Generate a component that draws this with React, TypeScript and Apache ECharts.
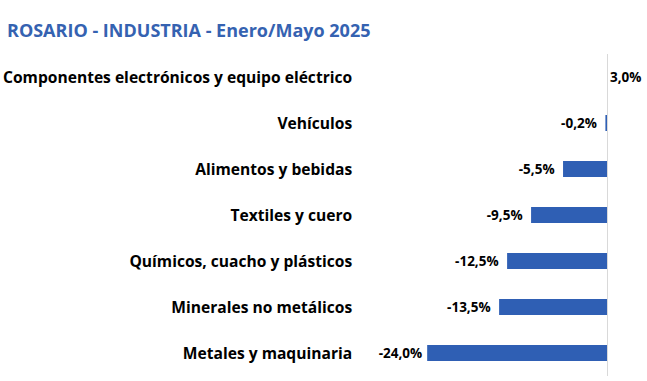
import React, { useEffect, useRef } from "react";
import * as echarts from "echarts";

const titleText = "ROSARIO - INDUSTRIA - Enero/Mayo 2025";
const categories = [
  "Componentes electrónicos y equipo eléctrico",
  "Vehículos",
  "Alimentos y bebidas",
  "Textiles y cuero",
  "Químicos, cuacho y plásticos",
  "Minerales no metálicos",
  "Metales y maquinaria",
];
const values = [3.0, -0.2, -5.5, -9.5, -12.5, -13.5, -24.0];
const axisMin = -22.5;
const axisMax = 0;

const BLUE = "#2F5FB4";
const FONT = "Open Sans";

export default function App() {
  const ref = useRef<HTMLDivElement>(null);
  useEffect(() => {
    if (!ref.current) return;
    const chart = echarts.init(ref.current, undefined, { renderer: "svg" });
    const fmt = (v: number) => v.toFixed(1).replace(".", ",") + "%";
    chart.setOption({
      animation: false,
      backgroundColor: "#ffffff",
      title: {
        text: titleText,
        left: 2,
        top: 16,
        textStyle: {
          fontFamily: FONT,
          fontWeight: "bold",
          fontSize: 18,
          color: "#3562B1",
        },
      },
      grid: { left: 427, right: 40, top: 54, bottom: 5, containLabel: false },
      xAxis: {
        type: "value",
        min: axisMin,
        max: axisMax,
        show: false,
        splitLine: { show: false },
      },
      yAxis: {
        type: "category",
        data: categories,
        inverse: true,
        axisLine: { show: false, onZero: false },
        axisTick: { show: false },
        axisLabel: {
          margin: 75,
          fontFamily: FONT,
          fontWeight: "bold",
          fontSize: 15.6,
          color: "#000000",
        },
      },
      series: [
        {
          type: "bar",
          barWidth: 16,
          clip: true,
          data: values.map((v) => {
            if (v > axisMax)
              return { value: v, label: { position: "right", distance: 3 } };
            if (v < axisMin) return { value: v, label: { distance: 5 } };
            return { value: v };
          }),
          itemStyle: { color: BLUE },
          label: {
            show: true,
            position: "left",
            distance: 8.5,
            formatter: (p: any) => fmt(p.value),
            fontFamily: FONT,
            fontWeight: "bold",
            fontSize: 13.5,
            color: "#000000",
          },
          markLine: {
            silent: true,
            symbol: "none",
            label: { show: false },
            lineStyle: { color: "#D9D9D9", width: 1, type: "solid" },
            data: [{ xAxis: 0 }],
          },
        },
      ],
    });
    return () => chart.dispose();
  }, []);
  return (
    <div
      ref={ref}
      style={{ position: "fixed", left: 0, top: 0, width: 647, height: 381 }}
    />
  );
}
